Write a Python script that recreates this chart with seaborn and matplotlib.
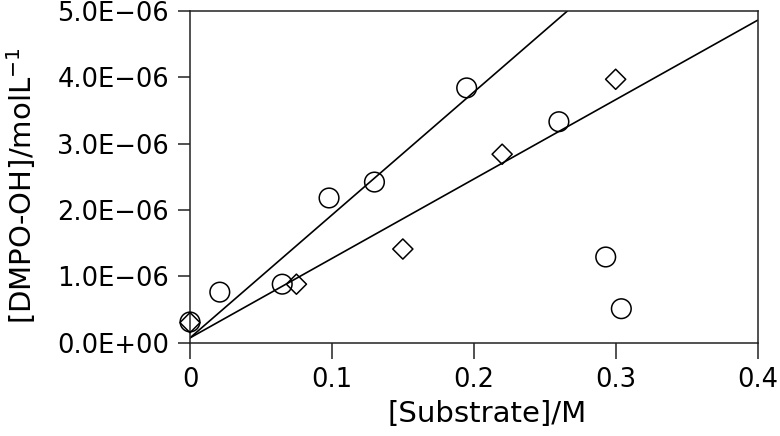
import numpy as np
import pandas as pd
import matplotlib
matplotlib.use("Agg")
import matplotlib.pyplot as plt
import seaborn as sns
from matplotlib.ticker import FuncFormatter

# data
circle_x = [0.0, 0.021, 0.065, 0.098, 0.130, 0.195, 0.260, 0.293, 0.304]
circle_y = [0.31e-6, 0.76e-6, 0.88e-6, 2.18e-6, 2.42e-6, 3.84e-6, 3.33e-6, 1.29e-6, 0.51e-6]
diamond_x = [0.0, 0.075, 0.150, 0.220, 0.300]
diamond_y = [0.30e-6, 0.88e-6, 1.41e-6, 2.84e-6, 3.97e-6]

# fitted trend lines (end points)
fit1_x = [0.0, 0.266]
fit1_y = [0.07e-6, 5.0e-6]
fit2_x = [0.0, 0.4]
fit2_y = [0.07e-6, 4.86e-6]

x_ticks = [0, 0.1, 0.2, 0.3, 0.4]
x_tick_labels = ["0", "0.1", "0.2", "0.3", "0.4"]
y_ticks = [0, 1e-6, 2e-6, 3e-6, 4e-6, 5e-6]

sns.set_style("ticks")
plt.rcParams["font.family"] = ["DejaVu Sans"]
plt.rcParams["text.color"] = "black"
plt.rcParams["axes.labelcolor"] = "black"
plt.rcParams["xtick.color"] = "black"
plt.rcParams["ytick.color"] = "black"

fig = plt.figure(figsize=(7.8, 4.36), dpi=100)
ax = fig.add_axes([0.2436, 0.2144, 0.9712 - 0.2436, 0.9748 - 0.2144])

sns.lineplot(x=fit1_x, y=fit1_y, ax=ax, color="black", linewidth=1.2)
sns.lineplot(x=fit2_x, y=fit2_y, ax=ax, color="black", linewidth=1.2)
sns.scatterplot(x=circle_x, y=circle_y, ax=ax, marker="o", s=200,
                facecolor="none", edgecolor="black", linewidth=1.1, zorder=3, clip_on=False)
sns.scatterplot(x=diamond_x, y=diamond_y, ax=ax, marker="D", s=105,
                facecolor="none", edgecolor="black", linewidth=1.1, zorder=3, clip_on=False)

ax.set_xlim(0, 0.4)
ax.set_ylim(0, 5e-6)
ax.set_xticks(x_ticks)
ax.set_xticklabels(x_tick_labels)
ax.set_yticks(y_ticks)
ax.yaxis.set_major_formatter(FuncFormatter(lambda v, p: f"{v:.1E}".replace("-", "\u2212")))

for sp in ax.spines.values():
    sp.set_visible(True)
    sp.set_color("#222222")
    sp.set_linewidth(1.1)

ax.tick_params(axis="y", direction="out", length=9, width=1.1, pad=6, labelsize=18.5,
               color="#222222", labelcolor="black")
ax.tick_params(axis="x", direction="out", length=11.5, width=1.1, pad=6, labelsize=18.5,
               color="#222222", labelcolor="black")

ax.set_xlabel("[Substrate]/M", fontsize=21)
ax.set_ylabel("[DMPO-OH]/molL$^{-1}$", fontsize=21)
ax.xaxis.set_label_coords(0.523, -0.173)
ax.yaxis.set_label_coords(-0.268, 0.472)

fig.savefig("out.png", dpi=100)
